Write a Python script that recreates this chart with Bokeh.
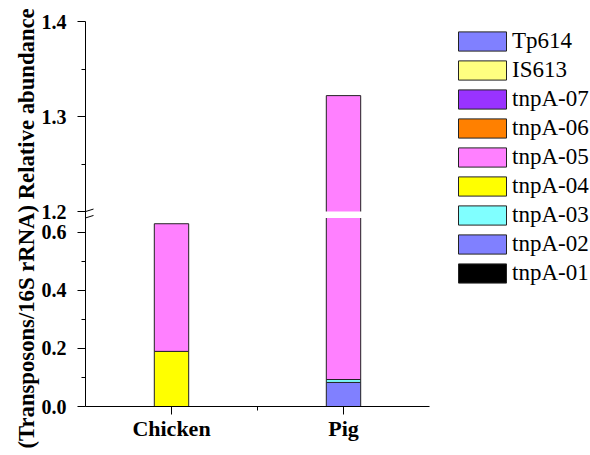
from bokeh.plotting import figure
from bokeh.models import Range1d, FixedTicker, Legend, LegendItem, ColumnDataSource, Arrow, Title
from bokeh.embed import file_html
from bokeh.resources import INLINE

# ---------------- data ----------------
categories = ["Chicken", "Pig"]
cat_x = [1, 2]
series_names = ["tnpA-01", "tnpA-02", "tnpA-03", "tnpA-04", "tnpA-05",
                "tnpA-06", "tnpA-07", "IS613", "Tp614"]
tnpA_01 = [0.0, 0.0]
tnpA_02 = [0.0, 0.083]
tnpA_03 = [0.0, 0.010]
tnpA_04 = [0.19, 0.0]
tnpA_05 = [0.44, 1.229]
tnpA_06 = [0.0, 0.0]
tnpA_07 = [0.0, 0.0]
IS613 = [0.0, 0.0]
Tp614 = [0.0, 0.0]
series_values = [tnpA_01, tnpA_02, tnpA_03, tnpA_04, tnpA_05,
                 tnpA_06, tnpA_07, IS613, Tp614]
series_colors = ["#000000", "#8080FF", "#80FFFF", "#FFFF00", "#FF80FF",
                 "#FF8000", "#9933FF", "#FFFF80", "#8080FF"]

y_major = [0.0, 0.2, 0.4, 0.6, 1.2, 1.3, 1.4]
y_major_labels = ["0.0", "0.2", "0.4", "0.6", "1.2", "1.3", "1.4"]
y_minor = [0.1, 0.3, 0.5, 1.25, 1.35]

# ---------------- broken-axis transform ----------------
LOW_MAX = 0.65
HIGH_MIN = 1.2
HIGH_MAX = 1.4
GAP = 0.022
K = 950.0 / 290.0


def ty(v):
    if v <= LOW_MAX:
        return v
    return LOW_MAX + GAP + (v - HIGH_MIN) * K


FONT = "Liberation Serif"
FRAME_LEFT = 85
FRAME_BOTTOM = 406
W, H = 590, 455
PX_X = 172.0   # pixels per x unit
PX_Y = 290.0   # pixels per (lower) y unit

p = figure(width=W, height=H, output_backend="svg", toolbar_location=None,
           x_range=Range1d(0.5, 0.5 + (W - FRAME_LEFT) / PX_X),
           y_range=Range1d(0, ty(HIGH_MAX)),
           min_border_left=FRAME_LEFT, min_border_right=0,
           min_border_top=21, min_border_bottom=H - FRAME_BOTTOM)
p.extra_y_ranges = {"legend_proxy": Range1d(100, 101)}
p.xgrid.visible = False
p.ygrid.visible = False
p.outline_line_color = None
p.background_fill_color = "white"

# ---------------- stacked bars ----------------
cum = [0.0 for _ in categories]
items = []
for name, vals, col in zip(series_names, series_values, series_colors):
    xs, bots, tops = [], [], []
    for i, v in enumerate(vals):
        if v > 0:
            xs.append(cat_x[i])
            bots.append(ty(cum[i]))
            tops.append(ty(cum[i] + v))
        cum[i] += v
    src = ColumnDataSource(dict(x=xs, bottom=bots, top=tops))
    p.vbar(x="x", width=0.2, bottom="bottom", top="top", source=src,
           fill_color=col, line_color="#222222", line_width=1)
    # legend swatch renderer: same series, drawn on an off-screen range
    proxy = p.vbar(x=cat_x, width=0.2, bottom=0, top=vals,
                   fill_color=col, line_color="#222222", line_width=1,
                   y_range_name="legend_proxy")
    items.append(LegendItem(label=name, renderers=[proxy]))

# white gap at the axis break
p.quad(left=0.5, right=3.5, bottom=LOW_MAX, top=ty(HIGH_MIN),
       fill_color="white", line_color=None)

# ---------------- axes ----------------
ya = p.yaxis[0]
ya.ticker = FixedTicker(ticks=[ty(v) for v in y_major],
                        minor_ticks=[ty(v) for v in y_minor])
ya.major_label_overrides = {ty(v): lab for v, lab in zip(y_major, y_major_labels)}
ya.bounds = (0, ty(HIGH_MAX))
ya.major_label_text_font = FONT
ya.major_label_text_font_style = "bold"
ya.major_label_text_font_size = "20px"
ya.major_label_text_color = "black"
ya.major_label_standoff = 11
ya.major_tick_out = 8
ya.major_tick_in = 0
ya.minor_tick_out = 4
ya.minor_tick_in = 0
ya.axis_line_color = "black"
ya.major_tick_line_color = "black"
ya.minor_tick_line_color = "black"

xa = p.xaxis[0]
xa.ticker = FixedTicker(ticks=cat_x, minor_ticks=[1.5])
xa.major_label_overrides = {x: c for x, c in zip(cat_x, categories)}
xa.bounds = (0.5, 2.5)
xa.major_label_text_font = FONT
xa.major_label_text_font_style = "bold"
xa.major_label_text_font_size = "22px"
xa.major_label_text_color = "black"
xa.major_label_standoff = 1
xa.major_tick_out = 8
xa.major_tick_in = 0
xa.minor_tick_out = 4
xa.minor_tick_in = 0
xa.axis_line_color = "black"
xa.major_tick_line_color = "black"
xa.minor_tick_line_color = "black"

# y axis title as a side title so it can be shifted along the axis
p.add_layout(Title(text="(Transposons/16S rRNA) Relative abundance",
                   align="left", offset=-42, standoff=0,
                   text_font=FONT, text_font_style="bold", text_font_size="22.7px",
                   text_color="black"), "left")

# break marks on the y axis
dx = 8 / PX_X
dy = 2.5 / PX_Y
for yc in (ty(HIGH_MIN), LOW_MAX):
    p.add_layout(Arrow(x_start=0.5 - dx, y_start=yc - dy, x_end=0.5 + dx,
                       y_end=yc + dy, end=None, start=None,
                       line_color="black", line_width=1))

# ---------------- legend ----------------
legend = Legend(items=list(reversed(items)), location=(452 - FRAME_LEFT, 120),
                glyph_width=60, glyph_height=24, label_height=24,
                spacing=3, padding=0, margin=0, label_standoff=0,
                label_text_font=FONT, label_text_font_size="23px",
                label_text_color="black",
                border_line_color=None, background_fill_alpha=0)
p.add_layout(legend)

open("out.html", "w").write(file_html(p, INLINE))
